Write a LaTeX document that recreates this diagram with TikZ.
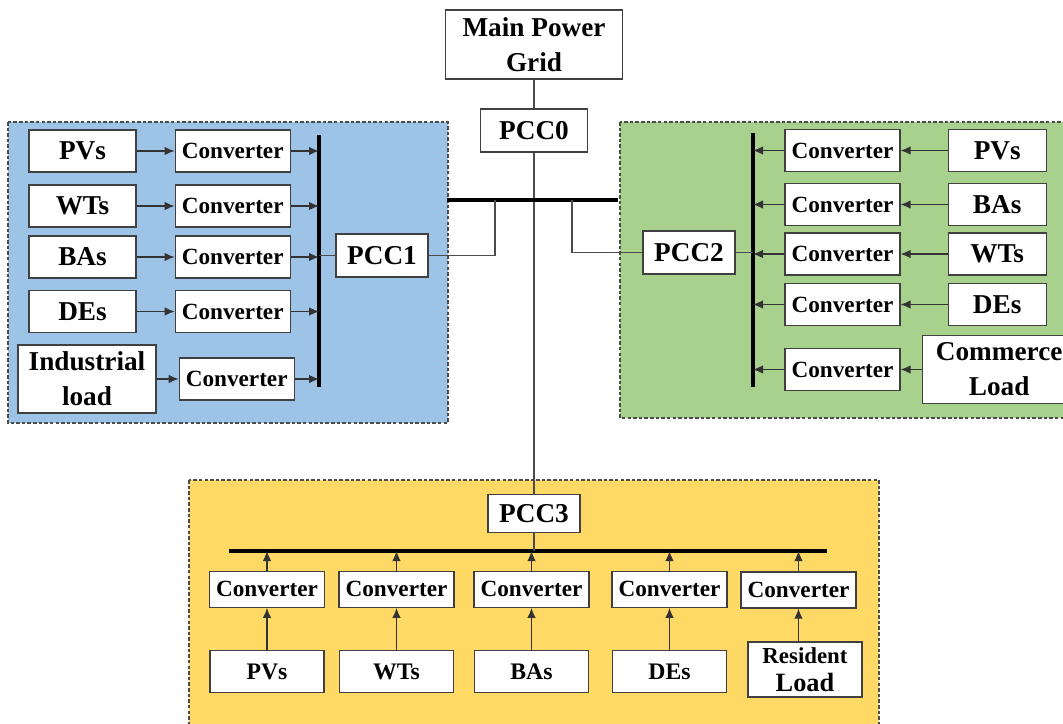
\documentclass[tikz,border=0pt]{standalone}
\usepackage{fontspec}
\setmainfont{Liberation Serif}
\usepackage{tikz}
\usetikzlibrary{positioning,arrows.meta}
\definecolor{areablue}{HTML}{9DC3E6}
\definecolor{areagreen}{HTML}{A9D18E}
\definecolor{areayellow}{HTML}{FFD966}
\newcommand{\lblfont}{\fontsize{15.5}{20}\selectfont\bfseries}
\newcommand{\convfont}{\fontsize{13.2}{16}\selectfont\bfseries}
\newcommand{\srcfont}{\fontsize{13.5}{16}\selectfont\bfseries}

\begin{document}
\begin{tikzpicture}[
			x=0.02cm,y=-0.02cm,
			box/.style={
				draw=black!75,
				fill=white,
				line width=0.7pt,
				inner sep=0pt,
				align=center,
				font=\lblfont
			},
			src/.style={box,minimum width=2.14cm,minimum height=0.84cm},
			conv/.style={box,minimum width=2.3cm,minimum height=0.84cm,font=\convfont},
			pcc/.style={box,minimum width=1.84cm,minimum height=0.86cm},
			arrow/.style={-{Latex[length=2mm,width=1.7mm]},line width=0.7pt,draw=black!80},
			wire/.style={line width=0.6pt,draw=black!70},
			bus/.style={line width=2.2pt},
			area/.style={draw=black!70,dash pattern=on 2pt off 1.2pt,line width=0.6pt}
			]
			
			\useasboundingbox (0,0) rectangle (1063,724);
			
			% microgrid areas
			\fill[areablue] (8,122) rectangle (448,423);
			\draw[area] (8,122) rectangle (448,423);
			\fill[areagreen] (620,122) rectangle (1070,418);
			\draw[area] (620,122) rectangle (1070,418);
			\fill[areayellow] (189,480) rectangle (879,730);
			\draw[area] (189,480) rectangle (879,730);
			
			\node[box,minimum width=3.54cm,minimum height=1.38cm] (grid) at (534,44.5) {Main Power\\Grid};
			\node[pcc,minimum width=2.14cm] (pcc0) at (534,130.5) {PCC0};
			\node[pcc] (pcc1) at (382,255.5) {PCC1};
			\node[pcc] (pcc2) at (689,252.5) {PCC2};
			\node[pcc,minimum height=0.76cm] (pcc3) at (534,513.5) {PCC3};
			
			% area 1
			\node[src] (b-pv) at (82.5,151) {PVs};
			\node[src] (b-wt) at (82.5,206) {WTs};
			\node[src] (b-ba) at (82.5,257) {BAs};
			\node[src] (b-de) at (82.5,311.5) {DEs};
			\node[src,minimum width=2.76cm,minimum height=1.36cm] (b-ld) at (87,379) {Industrial\\load};
			
			\node[conv,right=0.76cm of b-pv] (b-cpv) {Converter};
			\node[conv,right=0.76cm of b-wt] (b-cwt) {Converter};
			\node[conv,right=0.76cm of b-ba] (b-cba) {Converter};
			\node[conv,right=0.76cm of b-de] (b-cde) {Converter};
			\node[conv,right=0.44cm of b-ld] (b-cld) {Converter};
			
			\coordinate (b-bustop) at (319,135);
			\coordinate (b-busbot) at (319,387);
			
			% area 2
			\node[conv] (g-cpv) at (842.5,150.5) {Converter};
			\node[conv] (g-cba) at (842.5,204.5) {Converter};
			\node[conv] (g-cwt) at (842.5,254) {Converter};
			\node[conv] (g-cde) at (842.5,304.5) {Converter};
			\node[conv] (g-cld) at (842.5,369.5) {Converter};
			
			\node[src,minimum width=1.96cm,right=0.94cm of g-cpv] (g-pv) {PVs};
			\node[src,minimum width=1.96cm,right=0.94cm of g-cba] (g-ba) {BAs};
			\node[src,minimum width=1.96cm,right=0.94cm of g-cwt] (g-wt) {WTs};
			\node[src,minimum width=1.96cm,right=0.94cm of g-cde] (g-de) {DEs};
			\node[src,minimum width=3.08cm,minimum height=1.36cm,right=0.42cm of g-cld] (g-ld) {Commerce\\Load};
			
			\coordinate (g-bustop) at (753,133);
			\coordinate (g-busbot) at (753,387);
			
			% area 3
			\node[src,minimum width=2.28cm,font=\srcfont] (y-pv) at (267,671.5) {PVs};
			\node[src,minimum width=2.28cm,font=\srcfont] (y-wt) at (396.5,671.5) {WTs};
			\node[src,minimum width=2.28cm,font=\srcfont] (y-ba) at (531.5,671.5) {BAs};
			\node[src,minimum width=2.28cm,font=\srcfont] (y-de) at (669.5,671.5) {DEs};
			\node[src,minimum width=2.28cm,minimum height=1.1cm,font=\srcfont] (y-ld) at (805,669.5) {{\fontsize{13}{16}\selectfont Resident}\\{\fontsize{15}{16}\selectfont Load}};
			
			\node[conv,minimum height=0.72cm,above=0.84cm of y-pv] (y-cpv) {Converter};
			\node[conv,minimum height=0.72cm,above=0.84cm of y-wt] (y-cwt) {Converter};
			\node[conv,minimum height=0.72cm,above=0.84cm of y-ba] (y-cba) {Converter};
			\node[conv,minimum height=0.72cm,above=0.84cm of y-de] (y-cde) {Converter};
			\node[conv,minimum height=0.72cm] (y-cld) at (798.5,590) {Converter};
			
			\coordinate (y-busl) at (229,551);
			\coordinate (y-busr) at (827,551);
			
			% main feeder
			\coordinate (t-busl) at (447,200);
			\coordinate (t-busr) at (618,200);
			\coordinate (tap1) at (495,200);
			\coordinate (tap2) at (572,200);
			
			\draw[wire] (grid) -- (pcc0);
			\draw[wire] (pcc0) -- (pcc3);
			\draw[bus] (t-busl) -- (t-busr);
			\draw[wire] (pcc1.east) -| (tap1);
			\draw[wire] (pcc2.west) -| (tap2);
			
			\draw[bus] (b-bustop) -- (b-busbot);
			\draw[wire] (pcc1.west) -- (pcc1.west -| b-bustop);
			\draw[arrow] (b-pv) -- (b-cpv);
			\draw[arrow] (b-wt) -- (b-cwt);
			\draw[arrow] (b-ba) -- (b-cba);
			\draw[arrow] (b-de) -- (b-cde);
			\draw[arrow] (b-ld) -- (b-cld);
			\draw[arrow] (b-cpv.east) -- (b-cpv.east -| b-bustop);
			\draw[arrow] (b-cwt.east) -- (b-cwt.east -| b-bustop);
			\draw[arrow] (b-cba.east) -- (b-cba.east -| b-bustop);
			\draw[arrow] (b-cde.east) -- (b-cde.east -| b-bustop);
			\draw[arrow] (b-cld.east) -- (b-cld.east -| b-bustop);
			
			\draw[bus] (g-bustop) -- (g-busbot);
			\draw[wire] (pcc2.east) -- (pcc2.east -| g-bustop);
			\draw[arrow] (g-pv) -- (g-cpv);
			\draw[arrow] (g-ba) -- (g-cba);
			\draw[arrow] (g-wt) -- (g-cwt);
			\draw[arrow] (g-de) -- (g-cde);
			\draw[arrow] (g-ld) -- (g-cld);
			\draw[arrow] (g-cpv.west) -- (g-cpv.west -| g-bustop);
			\draw[arrow] (g-cba.west) -- (g-cba.west -| g-bustop);
			\draw[arrow] (g-cwt.west) -- (g-cwt.west -| g-bustop);
			\draw[arrow] (g-cde.west) -- (g-cde.west -| g-bustop);
			\draw[arrow] (g-cld.west) -- (g-cld.west -| g-bustop);
			
			\draw[bus] (y-busl) -- (y-busr);
			\draw[wire] (pcc3) -- (pcc3 |- y-busl);
			\draw[arrow] (y-pv) -- (y-cpv);
			\draw[arrow] (y-wt) -- (y-cwt);
			\draw[arrow] (y-ba) -- (y-cba);
			\draw[arrow] (y-de) -- (y-cde);
			\draw[arrow] (y-ld.north -| y-cld) -- (y-cld);
			\draw[arrow] (y-cpv.north) -- (y-cpv.north |- y-busl);
			\draw[arrow] (y-cwt.north) -- (y-cwt.north |- y-busl);
			\draw[arrow] (y-cba.north) -- (y-cba.north |- y-busl);
			\draw[arrow] (y-cde.north) -- (y-cde.north |- y-busl);
			\draw[arrow] (y-cld.north) -- (y-cld.north |- y-busl);
			
		\end{tikzpicture}
\end{document}
